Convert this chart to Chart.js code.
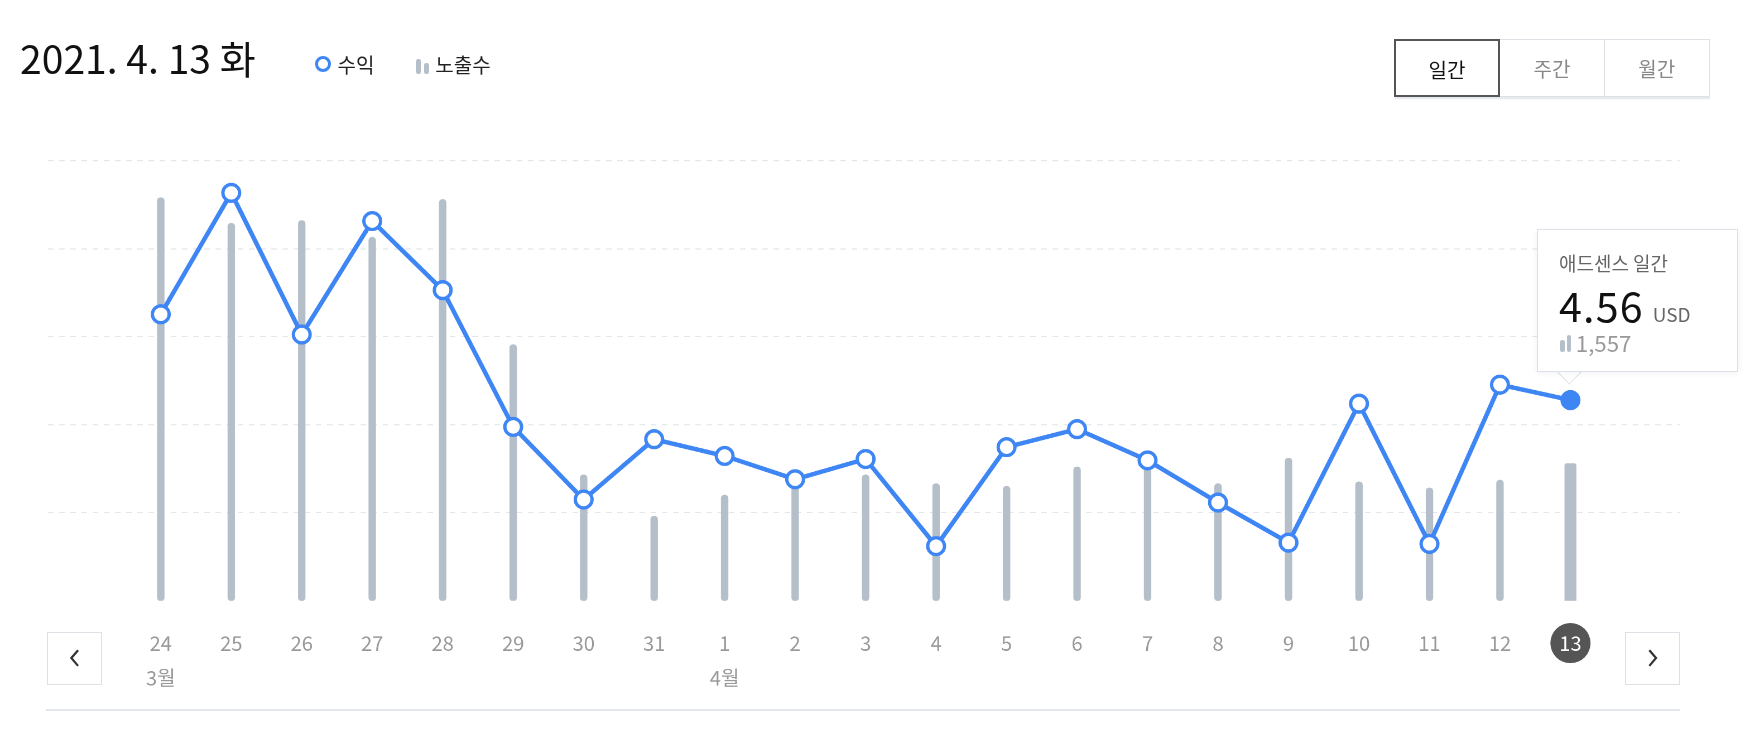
<!DOCTYPE html>
<html><head><meta charset="utf-8">
<script src="https://cdn.jsdelivr.net/npm/chart.js@4"></script>
<style>
html,body{margin:0;padding:0;background:#fff;overflow:hidden}
body{zoom:1.1161;font-family:"Noto Sans CJK KR","Noto Sans",sans-serif}
#wrap{position:relative;width:1568px;height:661px}
#wrap canvas{position:absolute;left:0;top:0}
.abs{position:absolute}
#title{left:18px;top:26px;font-size:35px;color:#111}
.leg{top:45px;font-size:18px;color:#222}
.btns{left:1250px;top:35px;display:flex;box-shadow:0 2px 0 #e6e9ee}
.btns div{width:95px;height:52px;line-height:52px;text-align:center;font-size:18px;color:#888;border:1px solid #dde1e6;box-sizing:border-box;margin-left:-1px}
.btns div.on{border:2px solid #555;color:#111;position:relative;z-index:2}
.nav{width:49px;height:48px;border:1px solid #dde1e6;box-sizing:border-box;background:#fff;display:flex;align-items:center;justify-content:center}
#tip{left:1377px;top:205px;width:180px;height:128px;border:1px solid #dde2ea;background:#fff;box-sizing:border-box;box-shadow:0 2px 6px rgba(0,0,0,.06)}
#arrow{left:1399px;top:326px;width:14px;height:14px;background:#fff;border-right:1px solid #dde2ea;border-bottom:1px solid #dde2ea;transform:rotate(45deg)}
</style></head>
<body>
<div id="wrap">
<canvas id="grafica" width="1568" height="661"></canvas>
<div class="abs" id="title">2021. 4. 13 화</div>
<div class="abs leg" style="left:282px"><span style="display:inline-block;width:9px;height:9px;border:3px solid #3f86f5;border-radius:50%;vertical-align:1px;margin-right:6px"></span>수익</div>
<div class="abs leg" style="left:373px"><span style="display:inline-block;width:4px;height:14px;background:#b4bfca;border-radius:2px;margin-right:3px;vertical-align:-1px"></span><span style="display:inline-block;width:4px;height:10px;background:#b4bfca;border-radius:2px;margin-right:6px;vertical-align:-1px"></span>노출수</div>
<div class="abs btns"><div class="on">일간</div><div>주간</div><div>월간</div></div>
<div class="abs nav" style="left:42px;top:566px"><svg width="12" height="18"><path d="M9 2 L3 9 L9 16" fill="none" stroke="#333" stroke-width="2"/></svg></div>
<div class="abs nav" style="left:1456px;top:566px"><svg width="12" height="18"><path d="M3 2 L9 9 L3 16" fill="none" stroke="#333" stroke-width="2"/></svg></div>
<div class="abs" style="left:41px;top:635px;width:1464px;height:2px;background:#e3e6ea"></div>
<div class="abs" id="arrow"></div>
<div class="abs" id="tip">
  <div class="abs" style="left:19px;top:17px;font-size:17px;color:#666">애드센스 일간</div>
  <div class="abs" style="left:19px;top:40px;font-size:37px;color:#111;letter-spacing:1px">4.56<span style="font-size:17px;color:#666;letter-spacing:0;margin-left:8px">USD</span></div>
  <div class="abs" style="left:20px;top:86px;font-size:20px;color:#999"><span style="display:inline-block;width:4px;height:11px;background:#b4bfca;border-radius:2px;margin-right:2px"></span><span style="display:inline-block;width:4px;height:15px;background:#b4bfca;border-radius:2px;margin-right:4px"></span>1,557</div>
</div>
</div>
<script>
// Etiquetas del eje X (días) y meses
const dias = ['24','25','26','27','28','29','30','31','1','2','3','4','5','6','7','8','9','10','11','12','13'];
const meses = ['3월','','','','','','','','4월','','','','','','','','','','','',''];
// Ingresos (USD)
const suma = [6.51,9.27,6.05,8.63,7.06,3.95,2.30,3.67,3.29,2.76,3.22,1.24,3.49,3.90,3.19,2.23,1.32,4.48,1.29,4.91,4.56];
// Impresiones
const impresiones = [4580,4290,4320,4130,4560,2910,1430,960,1200,1330,1430,1330,1300,1520,1520,1330,1620,1350,1280,1370,1557];

const ultimo = dias.length - 1;
const azul = '#3f86f5', gris = '#b4bfca';

// Etiquetas del eje X dibujadas con la escala
const etiquetas = {
    id: 'etiquetas',
    afterDraw(chart) {
        const ctx = chart.ctx, x = chart.scales.x;
        ctx.save();
        ctx.textAlign = 'center';
        ctx.textBaseline = 'middle';
        ctx.font = '18px "Noto Sans CJK KR", sans-serif';
        dias.forEach((d, i) => {
            const px = x.getPixelForValue(i);
            if (i === ultimo) {
                ctx.fillStyle = '#555';
                ctx.beginPath(); ctx.arc(px, 576, 18, 0, Math.PI * 2); ctx.fill();
                ctx.fillStyle = '#fff';
            } else ctx.fillStyle = '#999';
            ctx.fillText(d, px, 576);
            if (meses[i]) { ctx.fillStyle = '#999'; ctx.fillText(meses[i], px, 607); }
        });
        ctx.restore();
    }
};

new Chart(document.getElementById('grafica'), {
    data: {
        datasets: [{
            type: 'line',
            data: suma.map((v, i) => ({ x: i, y: v })),
            yAxisID: 'y',
            borderColor: azul,
            borderWidth: 4,
            pointRadius: 7.5,
            pointBorderWidth: 3,
            pointBorderColor: azul,
            pointBackgroundColor: ctx => ctx.dataIndex === ultimo ? azul : '#fff',
            tension: 0,
            order: 0
        }, {
            type: 'bar',
            data: impresiones.map((v, i) => ({ x: i, y: i === ultimo ? null : v })),
            yAxisID: 'y2',
            backgroundColor: gris,
            barThickness: 6,
            borderRadius: 3,
            borderSkipped: false,
            grouped: false,
            order: 1
        }, {
            type: 'bar',
            data: impresiones.map((v, i) => ({ x: i, y: i === ultimo ? v : null })),
            yAxisID: 'y2',
            backgroundColor: gris,
            barThickness: 10,
            borderRadius: 2,
            grouped: false,
            order: 1
        }]
    },
    options: {
        responsive: false,
        animation: false,
        devicePixelRatio: 2,
        layout: { padding: { left: 43, right: 63, top: 144, bottom: 123 } },
        plugins: { legend: { display: false }, tooltip: { enabled: false } },
        scales: {
            x: { type: 'linear', min: -1.6, max: 21.55, offset: false, display: false },
            y: {
                min: 0, max: 10,
                ticks: { display: false, stepSize: 2, padding: 0 },
                border: { display: false, dash: [5, 5] },
                grid: { drawTicks: false, tickLength: 0, color: c => c.tick.value === 0 ? 'transparent' : '#e3e7eb' }
            },
            y2: { min: 0, max: 5000, display: false }
        }
    },
    plugins: [etiquetas]
});
</script>
</body></html>
